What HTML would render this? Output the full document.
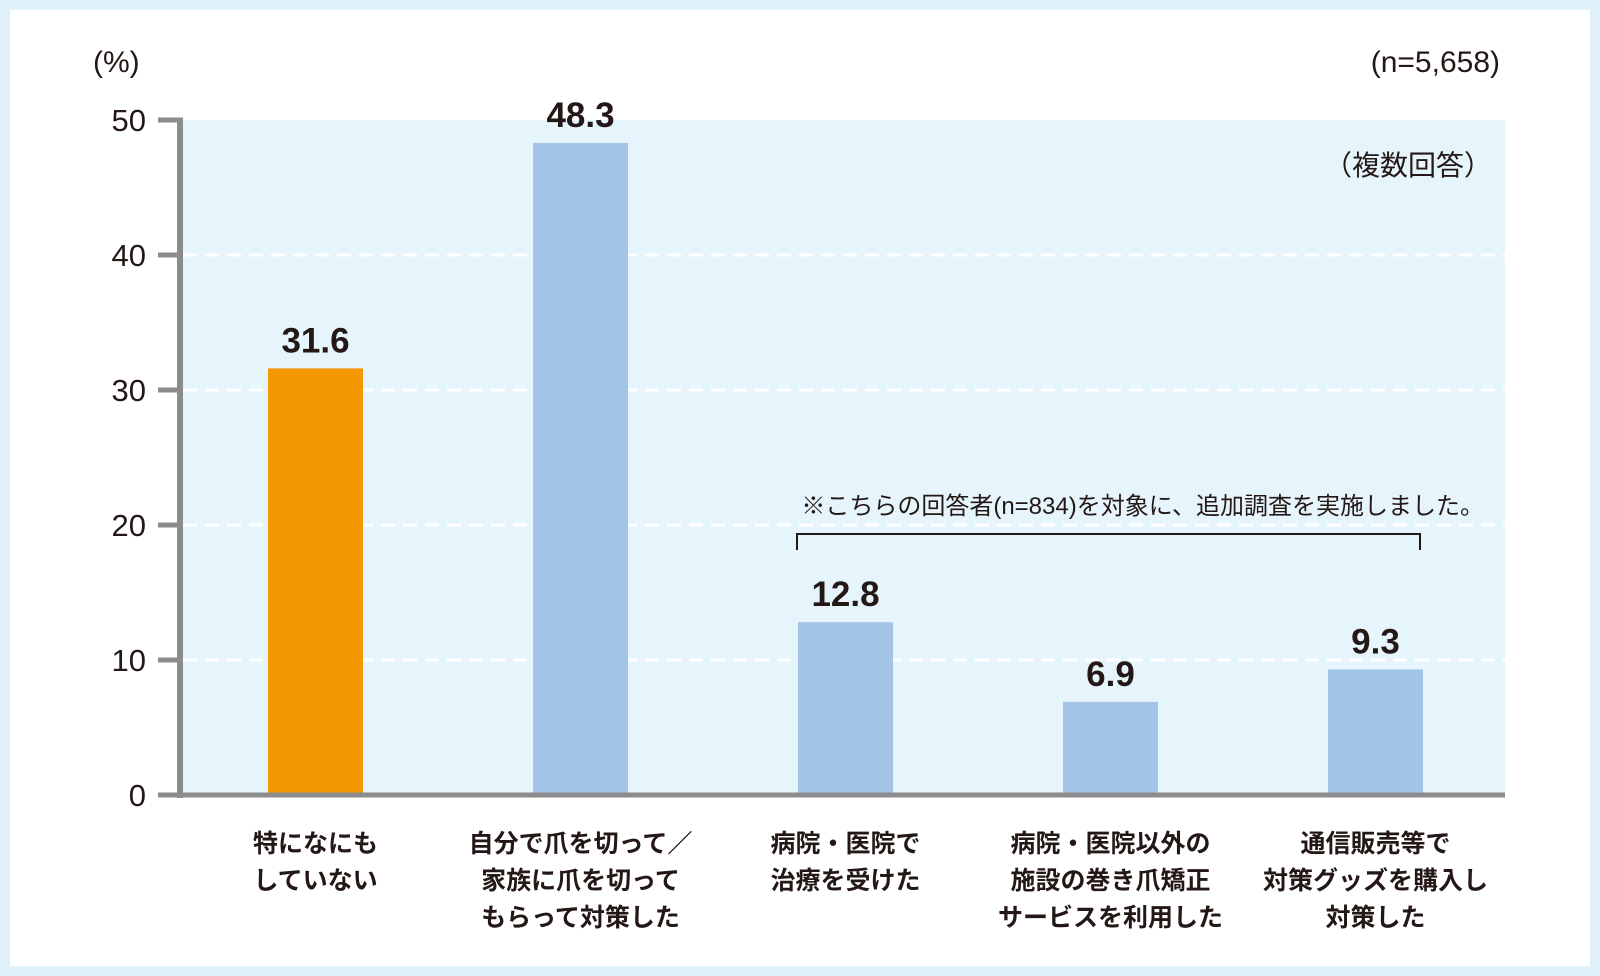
<!DOCTYPE html>
<html><head><meta charset="utf-8"><style>
body{margin:0;width:1600px;height:976px;background:#e1f1fa;font-family:"Liberation Sans","Noto Sans CJK JP",sans-serif;overflow:hidden}
#panel{position:absolute;left:10px;top:10px;width:1580px;height:956px;background:#fff}
svg text{fill:#231815}
</style></head><body>
<div id="panel"></div>
<svg id="chart" width="1600" height="976" style="position:absolute;left:0;top:0"></svg>
<script>
const categories=[["特になにも","していない"],["自分で爪を切って／","家族に爪を切って","もらって対策した"],["病院・医院で","治療を受けた"],["病院・医院以外の","施設の巻き爪矯正","サービスを利用した"],["通信販売等で","対策グッズを購入し","対策した"]];
const values=[31.6,48.3,12.8,6.9,9.3];
const valueLabels=["31.6","48.3","12.8","6.9","9.3"];
const ticks=[0,10,20,30,40,50];
const NS="http://www.w3.org/2000/svg";
const svg=document.getElementById('chart');
const x0=183,x1=1505,yTop=120,yBot=795,yMax=50;
const y=v=>yBot-(v/yMax)*(yBot-yTop);
const step=265,first=315.5,bw=95;
const cx=i=>first+i*step;
function mk(t,a){const e=document.createElementNS(NS,t);for(const k in a)e.setAttribute(k,a[k]);svg.appendChild(e);return e;}
let e=mk('rect',{x:x0,y:yTop,width:x1-x0,height:yBot-yTop,fill:'#e6f4fc'});


ticks.forEach(t=>{
 if(t>0&&t<50){let g=mk('line',{x1:x0,x2:x1,y1:y(t),y2:y(t),stroke:'#fff','stroke-width':3,'stroke-dasharray':'14 8'});
 
 }
 let tk=mk('line',{x1:158,x2:183,y1:y(t),y2:y(t),stroke:'#8c8c8c','stroke-width':5});
 
 
 let l=mk('text',{x:146,y:y(t)+11,'text-anchor':'end','font-size':31});l.textContent=t;
 
 
});
values.forEach((v,i)=>{
 let b=mk('rect',{x:cx(i)-bw/2,y:y(v),width:bw,height:yBot-y(v),fill:i==0?'#f39800':'#a3c4e6'});
 
 
 let t=mk('text',{x:cx(i),y:y(v)-16,'text-anchor':'middle','font-size':35,'font-weight':'bold'});t.textContent=valueLabels[i];
 
 
 categories[i].forEach((ln,j)=>{let c=mk('text',{x:cx(i),y:852+j*37,'text-anchor':'middle','font-size':25,'font-weight':'bold'});c.textContent=ln;
 
 });
});
e=mk('line',{x1:180,x2:180,y1:yTop-2,y2:yBot+3,stroke:'#8c8c8c','stroke-width':6});


e=mk('line',{x1:158,x2:x1,y1:yBot,y2:yBot,stroke:'#8c8c8c','stroke-width':5});


e=mk('path',{d:'M797 550 V534 H1420 V550',fill:'none',stroke:'#231815','stroke-width':2});


[['(%)',93,72,'start',30,'y-axis-unit'],['(n=5,658)',1500,72,'end',30,'sample-size'],['（複数回答）',1492,175,'end',28,'multiple-answer-note'],['※こちらの回答者(n=834)を対象に、追加調査を実施しました。',1484,514,'end',24,'followup-note']].forEach(a=>{
 let t=mk('text',{x:a[1],y:a[2],'text-anchor':a[3],'font-size':a[4]});t.textContent=a[0];
 
 
});
</script>
</body></html>
